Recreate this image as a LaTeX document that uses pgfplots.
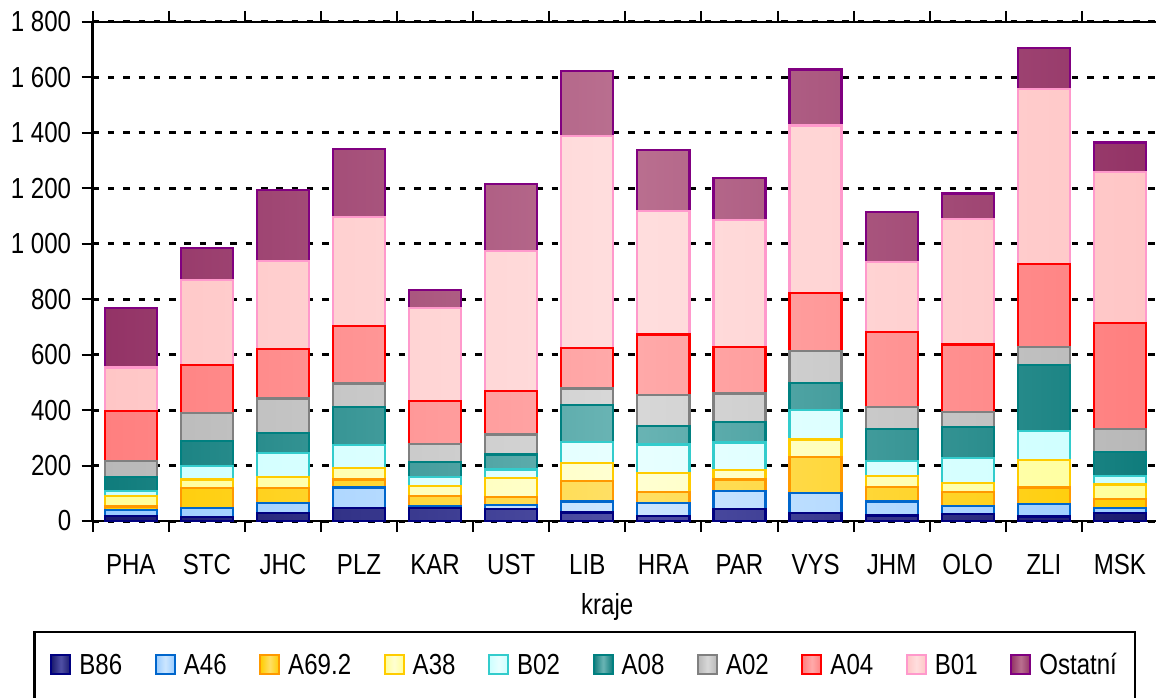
\documentclass[border=0pt]{standalone}
\usepackage{pgfplots}
\pgfplotsset{compat=1.18}
\usepackage{pgfplotstable}
\usepackage{fontspec}
\setmainfont{Liberation Sans}[FakeStretch=0.83]

\definecolor{dB86}{HTML}{000080}\definecolor{eB86}{HTML}{1A1A6E}\definecolor{mB86}{HTML}{5050A6}
\definecolor{dA46}{HTML}{0066CC}\definecolor{eA46}{HTML}{99CCFF}\definecolor{mA46}{HTML}{CCE6FF}
\definecolor{dA69}{HTML}{FF9900}\definecolor{eA69}{HTML}{FFCC00}\definecolor{mA69}{HTML}{FFE066}
\definecolor{dA38}{HTML}{FFCC00}\definecolor{eA38}{HTML}{FFFF99}\definecolor{mA38}{HTML}{FFFFD2}
\definecolor{dB02}{HTML}{33CCCC}\definecolor{eB02}{HTML}{CCFFFF}\definecolor{mB02}{HTML}{E8FFFF}
\definecolor{dA08}{HTML}{008080}\definecolor{eA08}{HTML}{0F7C7C}\definecolor{mA08}{HTML}{6BB5B5}
\definecolor{dA02}{HTML}{808080}\definecolor{eA02}{HTML}{B8B8B8}\definecolor{mA02}{HTML}{D8D8D8}
\definecolor{dA04}{HTML}{FF0000}\definecolor{eA04}{HTML}{FF7F7F}\definecolor{mA04}{HTML}{FFAAAA}
\definecolor{dB01}{HTML}{FF99CC}\definecolor{eB01}{HTML}{FFC6C6}\definecolor{mB01}{HTML}{FFDEDE}
\definecolor{dOst}{HTML}{800080}\definecolor{eOst}{HTML}{933366}\definecolor{mOst}{HTML}{BA7090}

\pgfplotsset{
  seg/.style={draw=d#1, left color=e#1, right color=e#1, middle color=m#1, line width=2.2pt},
}

\pgfplotstableread{
x B86 A46 A692 A38 B02 A08 A02 A04 B01 Ost
0 18 22 12 38 19 51 57 179 158 213
1 13 35 70 32 48 90 102 173 306 117
2 30 36 52 42 84 74 124 177 319 257
3 48 73 29 40 84 138 84 208 393 246
4 46 8 36 37 33 54 63 157 333 65
5 42 16 30 68 30 54 72 157 505 243
6 31 39 74 64 78 131 61 147 764 235
7 19 47 40 68 102 66 112 219 445 219
8 42 66 42 34 99 75 102 168 457 152
9 30 72 130 62 106 98 115 210 604 202
10 20 50 54 39 53 116 80 270 253 180
11 24 31 51 30 92 112 54 243 451 93
12 16 45 60 99 104 238 66 298 631 149
13 30 16 32 54 31 87 82 383 544 106
}\data

\begin{document}
\begin{tikzpicture}[font=\fontsize{29}{34}\selectfont]
\begin{axis}[
  scale only axis, width=1065.3pt, height=499pt,
  ybar stacked, bar width=52pt,
  xmin=-0.5, xmax=13.5, ymin=0, ymax=1800, enlargelimits=false,
  xtick={-0.5,0.5,...,13.5},
  xticklabels={PHA,STC,JHC,PLZ,KAR,UST,LIB,HRA,PAR,VYS,JHM,OLO,ZLI,MSK,{}},
  xticklabel style={xshift=38.05pt, yshift=-19pt},
  ytick={0,200,...,1800},
  yticklabels={0,200,400,600,800,1 000,1 200,1 400,1 600,1 800},
  yticklabel style={xshift=-7pt},
  /pgf/number format/assume math mode=true,
  tick align=outside, major tick length=11pt,
  tick style={black, line width=2pt},
  axis line style={black, line width=2.6pt},
  ymajorgrids, major grid style={black, line width=3pt, dash pattern=on 6.5pt off 8.8pt},
  xlabel={kraje},
  xlabel style={at={(axis description cs:0.483,-0.172)}, anchor=center},
  legend columns=10,
  legend cell align=left,
  legend style={at={(axis description cs:-0.056,-0.2204)}, anchor=north west,
    draw=black, line width=2.5pt, inner xsep=16pt, inner ysep=19pt,
    /tikz/every even column/.append style={column sep=30.5pt},
    /tikz/every odd column/.append style={column sep=6pt}},
  legend image code/.code={\draw[#1, line width=2pt] (0pt,-9pt) rectangle (19pt,10pt); \path (0pt,-26pt);},
]
\addplot[seg=B86] table[x=x,y=B86]{\data};
\addplot[seg=A46] table[x=x,y=A46]{\data};
\addplot[seg=A69] table[x=x,y=A692]{\data};
\addplot[seg=A38] table[x=x,y=A38]{\data};
\addplot[seg=B02] table[x=x,y=B02]{\data};
\addplot[seg=A08] table[x=x,y=A08]{\data};
\addplot[seg=A02] table[x=x,y=A02]{\data};
\addplot[seg=A04] table[x=x,y=A04]{\data};
\addplot[seg=B01] table[x=x,y=B01]{\data};
\addplot[seg=Ost] table[x=x,y=Ost]{\data};
\legend{B86,A46,A69.2,A38,B02,A08,A02,A04,B01,Ostatní}
\coordinate (sw) at (rel axis cs:0,0);
\end{axis}
\pgfresetboundingbox
\path[use as bounding box] (sw) ++(-92.7pt,-177pt) rectangle ++(1156pt,698pt);
\end{tikzpicture}
\end{document}
